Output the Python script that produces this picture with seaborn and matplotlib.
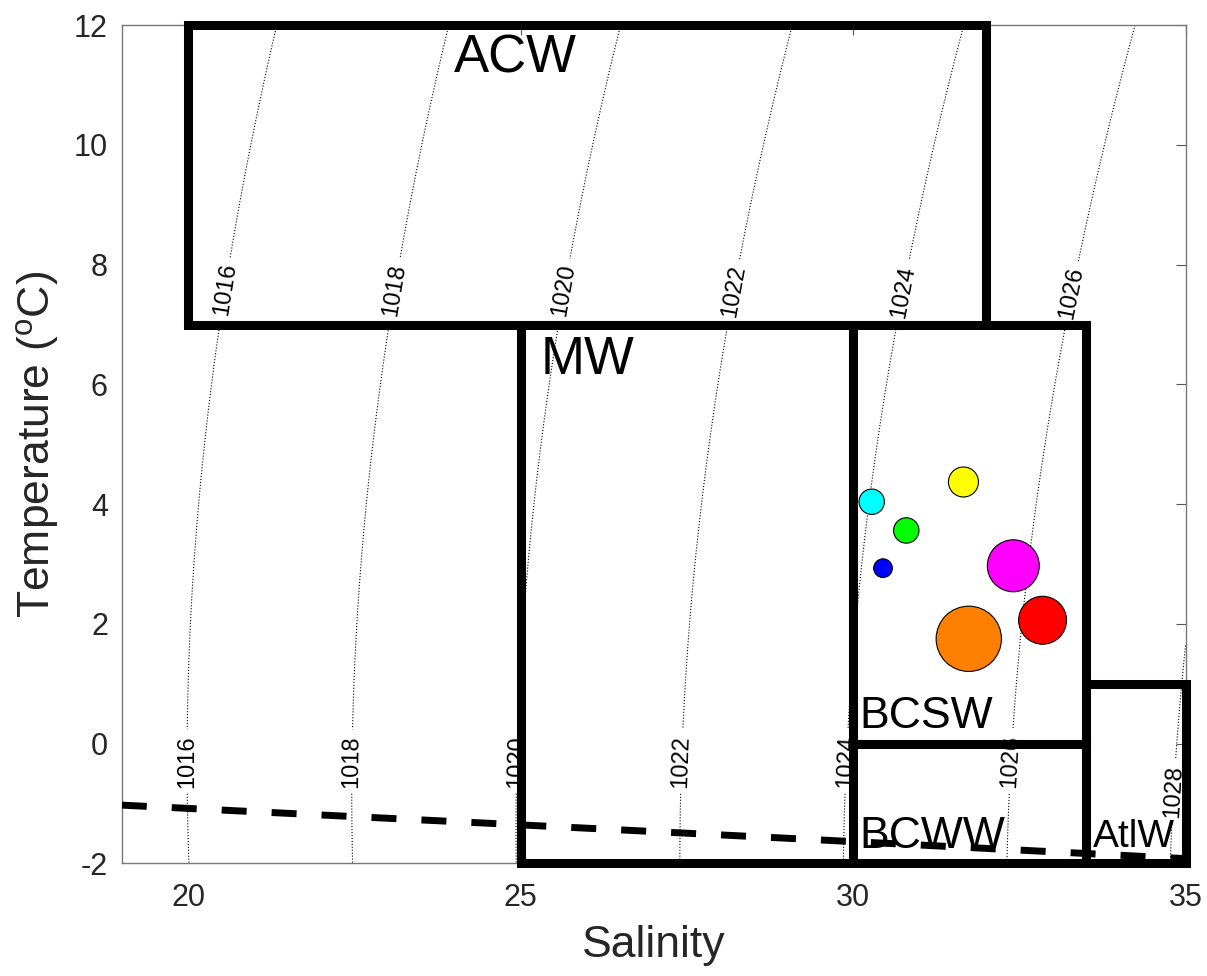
import matplotlib
matplotlib.use("Agg")
import matplotlib.pyplot as plt
from matplotlib.patches import Rectangle
import numpy as np
import pandas as pd
import seaborn as sns

# Station observations (salinity, temperature) and marker areas
stations = ["St1", "St2", "St3", "St4", "St5", "St6", "St7"]
salinity = [30.28, 31.66, 30.80, 30.45, 32.41, 32.85, 31.74]
temperature = [4.04, 4.37, 3.56, 2.93, 2.97, 2.06, 1.75]
marker_area = [334, 467, 334, 181, 1400, 1190, 2210]
station_colors = ["#00ffff", "#ffff00", "#00ff00", "#0000ff", "#ff00ff", "#ff0000", "#ff8000"]

# Water mass boxes: (name, S min, S max, T min, T max)
mass_names = ["ACW", "MW", "BCSW", "BCWW", "AtlW"]
mass_smin = [20, 25, 30, 30, 33.5]
mass_smax = [32, 30, 33.5, 33.5, 35]
mass_tmin = [7, -2, 0, -2, -2]
mass_tmax = [12, 7, 7, 0, 1]

# Density contour levels (kg m-3)
rho_levels = [1016, 1018, 1020, 1022, 1024, 1026, 1028]


def rho_unesco(S, T):
    # UNESCO 1980 equation of state at surface pressure
    rw = (999.842594 + 6.793952e-2 * T - 9.095290e-3 * T**2 + 1.001685e-4 * T**3
          - 1.120083e-6 * T**4 + 6.536332e-9 * T**5)
    A = 8.24493e-1 - 4.0899e-3 * T + 7.6438e-5 * T**2 - 8.2467e-7 * T**3 + 5.3875e-9 * T**4
    B = -5.72466e-3 + 1.0227e-4 * T - 1.6546e-6 * T**2
    C = 4.8314e-4
    return rw + A * S + B * S**1.5 + C * S**2


def freezing_point(S):
    return -0.0575 * S + 1.710523e-3 * S**1.5 - 2.154996e-4 * S**2


df = pd.DataFrame({"Station": stations, "Salinity": salinity, "Temperature": temperature})

sns.set_style("white")
plt.rcParams["font.family"] = ["Liberation Sans", "DejaVu Sans"]
plt.rcParams["axes.unicode_minus"] = False

fig = plt.figure(figsize=(12.07, 9.76), dpi=100)
ax = fig.add_axes([0.1009, 0.1155, 0.8813, 0.8586])

# Density contours
s_grid = np.linspace(19, 35, 300)
t_grid = np.linspace(-2, 12, 300)
SS, TT = np.meshgrid(s_grid, t_grid)
cs = ax.contour(SS, TT, rho_unesco(SS, TT), levels=rho_levels, colors="k",
                linestyles=":", linewidths=0.8, zorder=1)
label_spots = [(20.0, -0.3), (22.5, -0.3), (25.0, -0.3), (27.4, -0.3), (29.9, -0.3),
               (32.3, -0.3), (34.8, -0.8),
               (20.5, 7.6), (23.0, 7.6), (25.5, 7.6), (28.0, 7.6), (30.5, 7.6), (33.0, 7.6)]
ax.clabel(cs, manual=label_spots, fontsize=17, inline=True, fmt="%d", inline_spacing=6)
# keep every label reading bottom-to-top like the original
for txt in cs.labelTexts:
    r = txt.get_rotation() % 180
    if r < 45:
        r += 180
    txt.set_rotation(r if r <= 135 else r - 180)

# Freezing line
fz = pd.DataFrame({"S": s_grid, "T": freezing_point(s_grid)})
sns.lineplot(data=fz, x="S", y="T", ax=ax, color="k", linewidth=5,
             dashes=False, zorder=4)
ax.lines[-1].set_dashes((3.6, 3.6))

# Water mass boxes
for name, s0, s1, t0, t1 in zip(mass_names, mass_smin, mass_smax, mass_tmin, mass_tmax):
    ax.add_patch(Rectangle((s0, t0), s1 - s0, t1 - t0, fill=False, edgecolor="k",
                           linewidth=6.5, joinstyle="miter", clip_on=False, zorder=3))

label_pos = {"ACW": (24.0, 11.45, 38), "MW": (25.3, 6.4, 38), "BCSW": (30.1, 0.46, 32),
             "BCWW": (30.1, -1.56, 32), "AtlW": (33.6, -1.56, 28)}
for name in mass_names:
    x, y, fs = label_pos[name]
    ax.text(x, y, name, fontsize=fs, ha="left", va="center", color="k", zorder=6)

# Stations
sns.scatterplot(data=df, x="Salinity", y="Temperature", hue="Station", size="Station",
                palette=dict(zip(stations, station_colors)),
                sizes=dict(zip(stations, marker_area)),
                edgecolor="k", linewidth=0.8, legend=False, ax=ax, zorder=5)

ax.set_xlim(19, 35)
ax.set_ylim(-2, 12)
ax.set_xticks([20, 25, 30, 35])
ax.set_yticks(range(-2, 13, 2))
ax.tick_params(direction="in", length=7, width=0.8, top=True, right=True,
               colors="#555555", labelcolor="#262626", labelsize=22)
ax.tick_params(axis="x", pad=14)
ax.tick_params(axis="y", pad=10)
for sp in ax.spines.values():
    sp.set_color("#777777")
    sp.set_linewidth(1.0)

ax.set_xlabel("Salinity", fontsize=32, color="#262626", labelpad=9)
ax.set_ylabel("Temperature ($\\mathregular{^{o}}$C)", fontsize=32, color="#262626", labelpad=9)

plt.savefig("out.png", dpi=100)
